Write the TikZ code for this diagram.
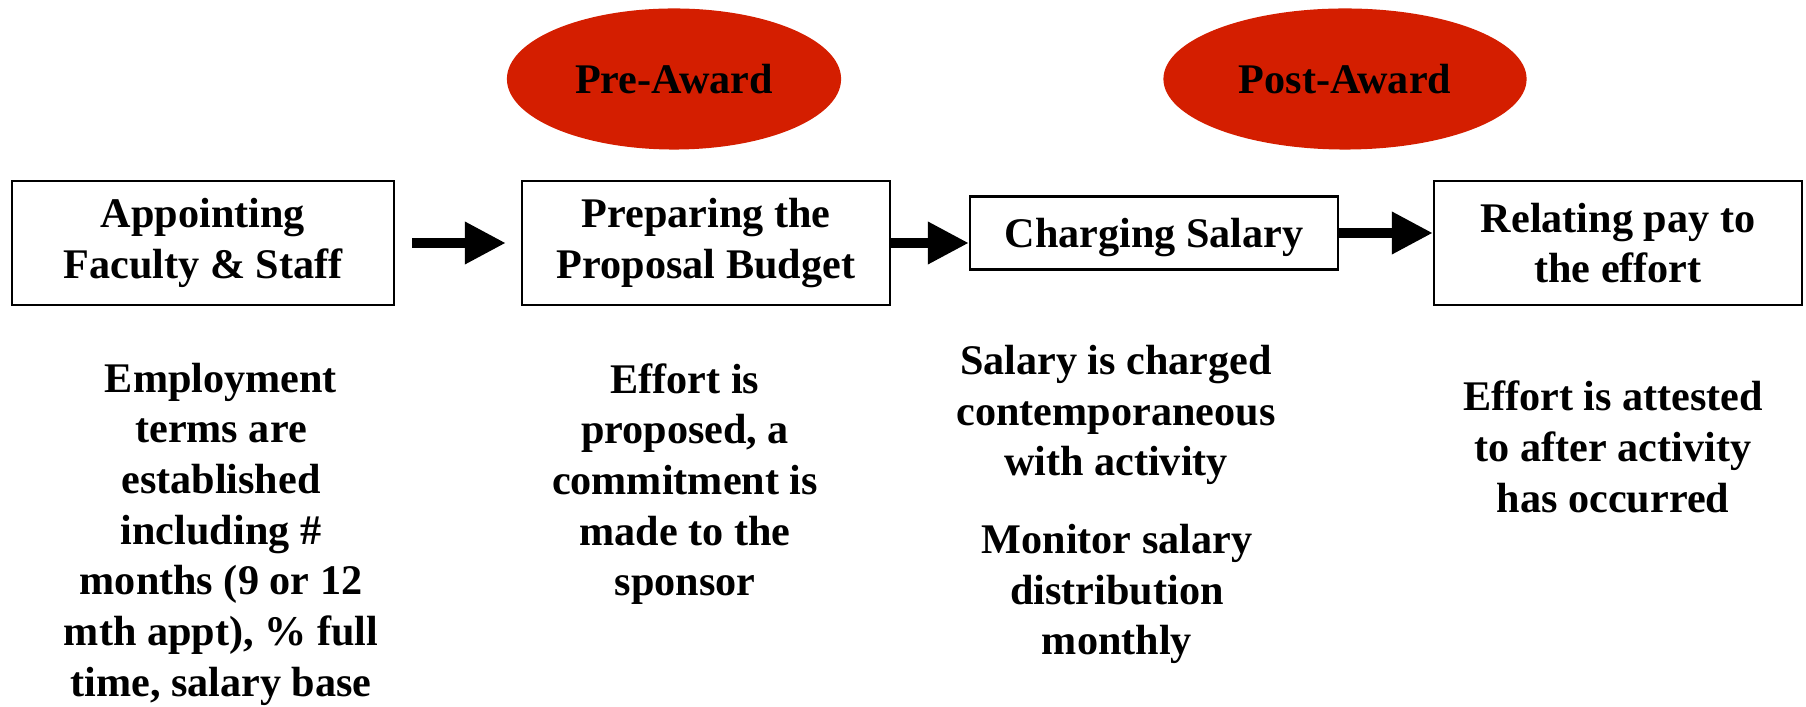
\documentclass[tikz,border=0pt]{standalone}
\usepackage{fontspec}
\setmainfont{Liberation Serif}
\usetikzlibrary{arrows.meta,shapes.geometric}
\definecolor{awardred}{RGB}{212,30,0}

\begin{document}
\begin{tikzpicture}[x=0.01cm, y=-0.01cm,
      phase/.style={ellipse, fill=awardred, inner sep=0pt, minimum height=1.41cm,
        font=\fontsize{12}{14}\selectfont\bfseries},
      stagebox/.style={draw, line width=0.6pt, align=center, inner sep=0pt,
        minimum width=3.68cm, minimum height=1.24cm, font=\fontsize{12}{14.3}\selectfont\bfseries},
      note/.style={align=center, inner sep=0pt, font=\fontsize{12}{14.4}\selectfont\bfseries},
      flow/.style={-{Triangle[length=0.41cm, width=0.4cm]}, line width=2.8pt}]
      \useasboundingbox (0,0) rectangle (1806,707);

      \node[phase, minimum width=3.34cm] (pre) at (674,79) {Pre-Award};
      \node[phase, minimum width=3.63cm] (post) at (1345,79) {Post-Award};

      \node[stagebox, minimum width=3.82cm] (b1) at (203,243) {Appointing\\Faculty \& Staff};
      \node[stagebox] (b2) at (706,243) {Preparing the\\Proposal Budget};
      \node[stagebox, minimum height=0.73cm, text depth=0pt] (b3) at (1154,233) {Charging Salary};
      \node[stagebox] (b4) at (1618,243) {Relating pay to\\the effort};

      \draw[flow] ([xshift=0.17cm]b1.east) -- ([xshift=-0.15cm]b2.west);
      \foreach \a/\b in {b2/b3, b3/b4} {
          \draw[flow] (\a.east) -- (\a.east -| \b.west);
      }

      \node[note] (n1) at (221,534) {Employment\\terms are\\established\\including \#\\months (9 or 12\\mth appt), \% full\\time, salary base};
      \node[note] (n2) at (685,484) {Effort is\\proposed, a\\commitment is\\made to the\\sponsor};
      \node[note] (n3) at (1116,415) {Salary is charged\\contemporaneous\\with activity};
      \node[note] (n4) at (1117,594) {Monitor salary\\distribution\\monthly};
      \node[note] (n5) at (1613,447) {Effort is attested\\to after activity\\has occurred};
  \end{tikzpicture}
\end{document}
